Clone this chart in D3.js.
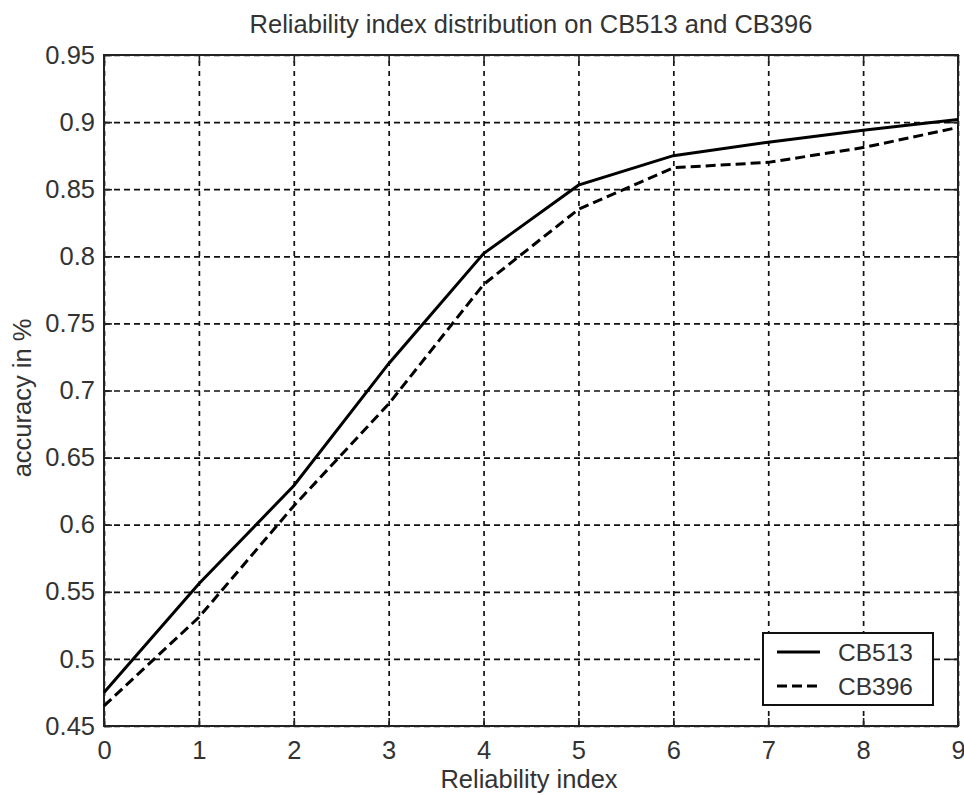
<!DOCTYPE html>
<html>
<head>
<meta charset="utf-8">
<script src="https://cdn.jsdelivr.net/npm/d3@7/dist/d3.min.js"></script>
<style>
  html, body { margin: 0; padding: 0; background: #fff; }
  svg { display: block; }
  text { font-family: "Liberation Sans", Arial, sans-serif; fill: #333; }
</style>
</head>
<body>
<svg id="chart" width="964" height="795"></svg>
<script>
const reliabilityIndex = [0, 1, 2, 3, 4, 5, 6, 7, 8, 9];
const cb513 = [0.475, 0.556, 0.629, 0.720, 0.802, 0.853, 0.875, 0.885, 0.894, 0.902];
const cb396 = [0.465, 0.531, 0.614, 0.690, 0.779, 0.835, 0.866, 0.870, 0.881, 0.896];
const xTicks = [0, 1, 2, 3, 4, 5, 6, 7, 8, 9];
const yTicks = [0.45, 0.5, 0.55, 0.6, 0.65, 0.7, 0.75, 0.8, 0.85, 0.9, 0.95];
const seriesNames = ["CB513", "CB396"];
const titleText = "Reliability index distribution on CB513 and CB396";
const xLabelText = "Reliability index";
const yLabelText = "accuracy in %";

(function () {
const svg = d3.select("#chart");
const pL = 104, pR = 958, pT = 55, pB = 726;
const x = d3.scaleLinear().domain([0, 9]).range([pL, pR]);
const y = d3.scaleLinear().domain([0.45, 0.95]).range([pB, pT]);
const fmt = d => String(+d.toFixed(2));
const textColor = "#333";

svg.append("rect").attr("width", 964).attr("height", 795).attr("fill", "#fff");

// grid
const gx = svg.append("g").attr("transform", `translate(0,${pB})`)
  .call(d3.axisBottom(x).tickValues(xTicks).tickSize(-(pB - pT)).tickFormat(""));
gx.select(".domain").remove();
gx.selectAll("line").attr("stroke", "#111").attr("stroke-width", 1.7).attr("stroke-dasharray", "5,5");

const gy = svg.append("g").attr("transform", `translate(${pL},0)`)
  .call(d3.axisLeft(y).tickValues(yTicks).tickSize(-(pR - pL)).tickFormat(""));
gy.select(".domain").remove();
gy.selectAll("line").attr("stroke", "#111").attr("stroke-width", 1.7).attr("stroke-dasharray", "6,4");

// inward ticks (all four sides)
const tickLen = 8;
const addAxis = (axisGen, tx, ty) => {
  const g = svg.append("g").attr("transform", `translate(${tx},${ty})`).call(axisGen);
  g.select(".domain").remove();
  g.selectAll("line").attr("stroke", "#222").attr("stroke-width", 1.6);
  g.selectAll("text").attr("font-size", 25.5).attr("fill", textColor)
    .style("font-family", '"Liberation Sans", Arial, sans-serif');
  return g;
};
const xb = addAxis(d3.axisBottom(x).tickValues(xTicks).tickSize(-tickLen).tickFormat(d3.format("d")), 0, pB);
xb.selectAll("text").attr("y", 15).attr("dy", "0.71em");
addAxis(d3.axisTop(x).tickValues(xTicks).tickSize(-tickLen).tickFormat(""), 0, pT);
const yl = addAxis(d3.axisLeft(y).tickValues(yTicks).tickSize(-tickLen).tickFormat(fmt), pL, 0);
yl.selectAll("text").attr("x", -9);
addAxis(d3.axisRight(y).tickValues(yTicks).tickSize(-tickLen).tickFormat(""), pR, 0);

// box
svg.append("rect").attr("x", pL).attr("y", pT).attr("width", pR - pL).attr("height", pB - pT)
  .attr("fill", "none").attr("stroke", "#222").attr("stroke-width", 2);

// lines
const line = vals => d3.line().x((d, i) => x(reliabilityIndex[i])).y(d => y(d))(vals);
svg.append("path").attr("d", line(cb513)).attr("fill", "none").attr("stroke", "#000").attr("stroke-width", 3);
svg.append("path").attr("d", line(cb396)).attr("fill", "none").attr("stroke", "#000").attr("stroke-width", 3)
  .attr("stroke-dasharray", "10,5");

// title and labels
svg.append("text").attr("x", 531).attr("y", 33).attr("text-anchor", "middle").attr("font-size", 25.5).text(titleText);
svg.append("text").attr("x", 529).attr("y", 788).attr("text-anchor", "middle").attr("font-size", 25.5).text(xLabelText);
svg.append("text").attr("transform", "translate(31,398) rotate(-90)").attr("text-anchor", "middle")
  .attr("font-size", 25.5).text(yLabelText);

// legend
const lg = svg.append("g");
lg.append("rect").attr("x", 763).attr("y", 633).attr("width", 170).attr("height", 72)
  .attr("fill", "#fff").attr("stroke", "#111").attr("stroke-width", 2);
const legY = [652, 686];
const dashes = [null, "10,5"];
seriesNames.forEach((name, i) => {
  lg.append("line").attr("x1", 777).attr("x2", 820).attr("y1", legY[i]).attr("y2", legY[i])
    .attr("stroke", "#000").attr("stroke-width", 3).attr("stroke-dasharray", dashes[i]);
  lg.append("text").attr("x", 838).attr("y", legY[i]).attr("dy", "0.36em").attr("font-size", 24.5).text(name);
});
})();
</script>
</body>
</html>
